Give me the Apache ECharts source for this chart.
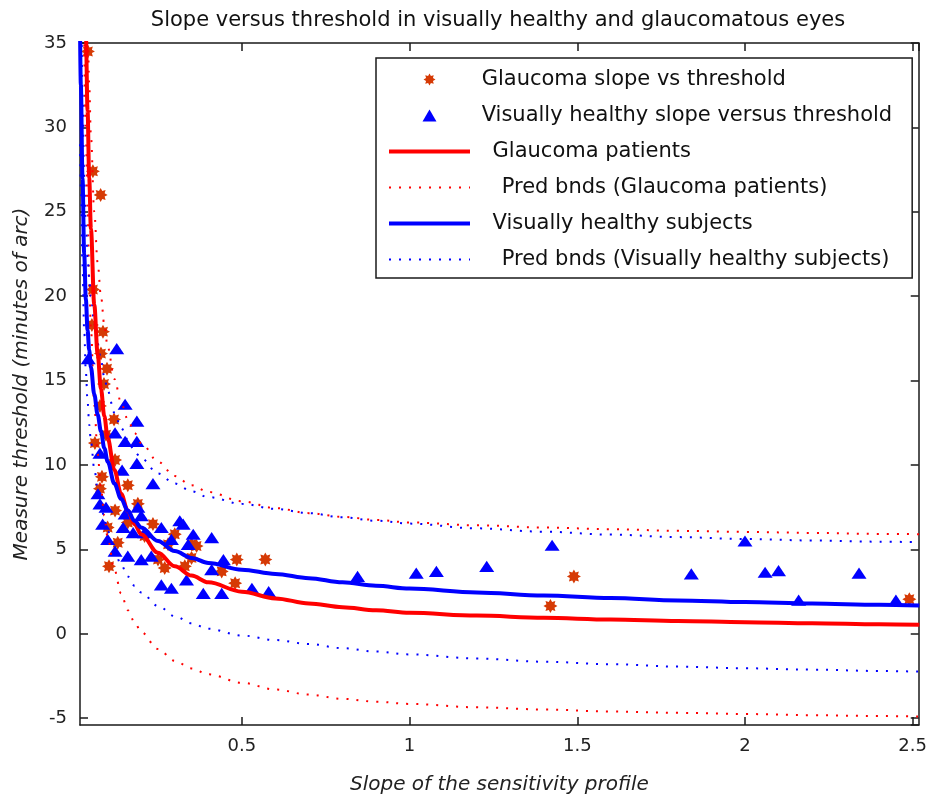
<!DOCTYPE html>
<html><head><meta charset="utf-8">
<script src="https://cdn.jsdelivr.net/npm/echarts@6/dist/echarts.min.js"></script>
<style>html,body{margin:0;padding:0;background:#fff}#c{width:930px;height:800px}</style>
</head><body><div id="c"></div>
<script>
const chartTitle = 'Slope versus threshold in visually healthy and glaucomatous eyes';
const xAxisTitle = 'Slope of the sensitivity profile';
const yAxisTitle = 'Measure threshold (minutes of arc)';
const seriesNames = ['Glaucoma slope vs threshold', 'Visually healthy slope versus threshold',
  'Glaucoma patients', 'Pred bnds (Glaucoma patients)', 'Visually healthy subjects', 'Pred bnds (Visually healthy subjects)'];
const legendLabels = [' Glaucoma slope vs threshold', ' Visually healthy slope versus threshold',
  '  \u2009Glaucoma patients', '    Pred bnds (Glaucoma patients)', '  \u2009Visually healthy subjects', '    Pred bnds (Visually healthy subjects)'];

const glaucomaPoints = [
  [0.041, 34.5], [0.056, 27.4], [0.079, 26.0], [0.056, 20.4], [0.053, 18.3], [0.086, 17.9], [0.08, 16.6],
  [0.098, 15.7], [0.089, 14.8], [0.077, 13.5], [0.119, 12.7], [0.095, 11.8], [0.062, 11.3], [0.122, 10.3],
  [0.083, 9.3], [0.077, 8.6], [0.16, 8.8], [0.122, 7.3], [0.19, 7.7], [0.1, 6.3], [0.13, 5.4], [0.104, 4.0],
  [0.16, 6.6], [0.21, 5.8], [0.235, 6.5], [0.30, 5.9], [0.28, 5.3], [0.25, 4.4], [0.27, 3.9], [0.33, 4.0],
  [0.35, 5.3], [0.365, 5.2], [0.35, 4.5], [0.485, 4.4], [0.57, 4.4], [0.44, 3.7], [0.48, 3.0],
  [1.42, 1.65], [1.49, 3.4], [2.49, 2.05]
];
const healthyPoints = [
  [0.042, 16.3], [0.127, 16.9], [0.152, 13.6], [0.187, 12.6], [0.122, 11.9], [0.152, 11.4], [0.187, 11.4],
  [0.077, 10.7], [0.187, 10.1], [0.143, 9.7], [0.235, 8.9], [0.071, 8.3], [0.077, 7.7], [0.095, 7.5],
  [0.152, 7.1], [0.19, 7.5], [0.2, 7.0], [0.085, 6.5], [0.146, 6.3], [0.176, 6.0], [0.21, 6.0], [0.1, 5.6],
  [0.26, 6.3], [0.315, 6.7], [0.29, 5.6], [0.34, 5.3], [0.122, 4.9], [0.16, 4.6], [0.2, 4.4], [0.23, 4.6],
  [0.26, 2.9], [0.29, 2.7], [0.41, 5.7], [0.355, 5.9], [0.325, 6.5], [0.445, 4.4], [0.41, 3.8],
  [0.385, 2.4], [0.44, 2.4], [0.53, 2.7], [0.58, 2.5], [0.335, 3.2],
  [0.845, 3.4], [1.02, 3.6], [1.08, 3.7], [1.23, 4.0], [1.425, 5.25], [1.84, 3.55], [2.0, 5.5],
  [2.06, 3.65], [2.1, 3.75], [2.16, 2.0], [2.34, 3.6], [2.45, 2.0]
];

const curveX = [0.0175, 0.02, 0.025, 0.03, 0.035, 0.04, 0.045, 0.05, 0.06, 0.07, 0.08, 0.09, 0.1, 0.12, 0.14, 0.16, 0.18, 0.2,
  0.25, 0.3, 0.35, 0.4, 0.5, 0.6, 0.7, 0.8, 0.9, 1.0, 1.2, 1.4, 1.6, 1.8, 2.0, 2.2, 2.4, 2.52];
const glaucomaFit = [null, null, null, 41.5, 35.5, 31, 27, 24, 19.5, 16.6, 14.5, 12.9, 11.6, 9.7, 8.3, 7.3, 6.5, 5.9,
  4.8, 4.0, 3.45, 3.05, 2.5, 2.1, 1.8, 1.58, 1.4, 1.25, 1.08, 0.95, 0.85, 0.76, 0.69, 0.63, 0.57, 0.54];
const glaucomaUpper = [null, null, null, 47, 41, 36.5, 32.5, 29.5, 25, 22, 20, 18.3, 17, 15.1, 13.7, 12.7, 11.9, 11.3,
  10.2, 9.35, 8.8, 8.4, 7.85, 7.45, 7.15, 6.93, 6.75, 6.6, 6.43, 6.3, 6.2, 6.1, 6.04, 5.98, 5.92, 5.9];
const glaucomaLower = [null, null, null, 35.5, 29.5, 25.1, 21.1, 18.1, 13.6, 10.7, 8.6, 7.0, 5.7, 3.8, 2.4, 1.4, 0.7, 0.1,
  -0.9, -1.6, -2.05, -2.4, -2.9, -3.3, -3.6, -3.85, -4.02, -4.15, -4.35, -4.48, -4.6, -4.68, -4.75, -4.82, -4.87, -4.9];
const healthyFit = [36, 32.5, 27, 22.5, 19.8, 18.0, 16.8, 15.8, 14.2, 13.0, 12.0, 11.0, 10.2, 8.9, 8.0, 7.3, 6.7, 6.3,
  5.5, 4.9, 4.5, 4.2, 3.8, 3.55, 3.3, 3.05, 2.85, 2.68, 2.45, 2.27, 2.12, 1.98, 1.88, 1.8, 1.72, 1.68];
const healthyUpper = [42, 38, 32, 27, 24.2, 22.3, 21.0, 20.0, 18.4, 17.2, 16.2, 15.2, 14.4, 13.1, 12.2, 11.5, 10.8, 10.4,
  9.5, 8.9, 8.45, 8.1, 7.7, 7.4, 7.15, 6.9, 6.7, 6.53, 6.25, 6.05, 5.88, 5.73, 5.62, 5.53, 5.46, 5.43];
const healthyLower = [29, 26.5, 21.8, 18, 15.5, 13.8, 12.4, 11.4, 9.8, 8.6, 7.7, 6.8, 6.1, 4.9, 4.1, 3.4, 2.85, 2.45,
  1.65, 1.05, 0.62, 0.3, -0.1, -0.37, -0.6, -0.85, -1.05, -1.22, -1.46, -1.65, -1.8, -1.94, -2.04, -2.12, -2.2, -2.24];

const xRange = [0.0175, 2.518];
const yRange = [-5.4, 35];

const RED = '#ff0000', BLUE = '#0000ff', STAR = '#d63a05';
const FONT = 'DejaVu Sans';
const TRIANGLE = 'path://M50 0L100 86L0 86Z';

function starSymbol(n, inner) {
  let d = '';
  for (let i = 0; i < 2 * n; i++) {
    const r = i % 2 ? inner : 1;
    const a = Math.PI * i / n - Math.PI / 2;
    d += (i ? 'L' : 'M') + (50 + 50 * r * Math.cos(a)).toFixed(2) + ' ' + (50 + 50 * r * Math.sin(a)).toFixed(2);
  }
  return 'path://' + d + 'Z';
}
function pairs(xs, ys) {
  const out = [];
  xs.forEach((x, i) => { if (ys[i] !== null) out.push([x, ys[i]]); });
  return out;
}
function lineSeries(name, ys, color, width, dotted) {
  return {
    type: 'line', name, data: pairs(curveX, ys), showSymbol: false, symbol: 'none',
    smooth: 0.35, smoothMonotone: 'x', clip: true, silent: true,
    lineStyle: { color, width, type: dotted ? [2, 8] : 'solid' },
    itemStyle: { color }, z: dotted ? 3 : 4
  };
}

const axisCommon = {
  type: 'value',
  axisLine: { show: true, onZero: false, lineStyle: { color: '#1a1a1a', width: 1.5 } },
  axisTick: { show: true, inside: true, length: 8, lineStyle: { color: '#1a1a1a', width: 1.5 } },
  splitLine: { show: false },
  axisLabel: { fontFamily: FONT, fontSize: 18, color: '#222' }
};

const legendData = seriesNames.map((name, i) => i < 2 ? { name } : { name, itemStyle: { opacity: 0 } });

const chart = echarts.init(document.getElementById('c'), null, { renderer: 'canvas' });
chart.setOption({
  backgroundColor: '#fff',
  animation: false,
  title: {
    text: chartTitle, left: 493, top: 5, textAlign: 'center',
    textStyle: { fontFamily: FONT, fontSize: 21, fontWeight: 'normal', color: '#111' }
  },
  grid: { left: 80, right: 8, top: 43, bottom: 72, containLabel: false },
  legend: {
    orient: 'vertical', left: 376, top: 58,
    data: legendData,
    formatter: name => legendLabels[seriesNames.indexOf(name)],
    backgroundColor: '#fff', borderColor: '#1a1a1a', borderWidth: 1.5,
    padding: [11, 20, 8, 11], itemWidth: 81, itemHeight: 12, itemGap: 15,
    symbolKeepAspect: true,
    textStyle: { fontFamily: FONT, fontSize: 21, color: '#111', lineHeight: 21 },
    lineStyle: { width: 'inherit' },
    selectedMode: false
  },
  xAxis: [
    Object.assign({}, axisCommon, {
      position: 'bottom', min: xRange[0], max: xRange[1], splitNumber: 5,
      axisLabel: Object.assign({}, axisCommon.axisLabel, { margin: 12, showMinLabel: false, showMaxLabel: false }),
      name: xAxisTitle, nameLocation: 'middle', nameGap: 50,
      nameTextStyle: { fontFamily: FONT, fontSize: 20, fontStyle: 'italic', color: '#222' }
    }),
    Object.assign({}, axisCommon, {
      position: 'top', min: xRange[0], max: xRange[1], splitNumber: 5, axisLabel: { show: false }
    })
  ],
  yAxis: [
    Object.assign({}, axisCommon, {
      position: 'left', min: yRange[0], max: yRange[1], splitNumber: 8,
      axisLabel: Object.assign({}, axisCommon.axisLabel, { margin: 13, showMinLabel: false }),
      name: yAxisTitle, nameLocation: 'middle', nameGap: 48, nameRotate: 90,
      nameTextStyle: { fontFamily: FONT, fontSize: 20, fontStyle: 'italic', color: '#222' }
    }),
    Object.assign({}, axisCommon, {
      position: 'right', min: yRange[0], max: yRange[1], splitNumber: 8, axisLabel: { show: false }
    })
  ],
  series: [
    { type: 'scatter', name: seriesNames[0], data: glaucomaPoints, symbol: starSymbol(8, 0.62), symbolSize: 14,
      symbolKeepAspect: true, itemStyle: { color: STAR, opacity: 1 }, z: 2, silent: true },
    { type: 'scatter', name: seriesNames[1], data: healthyPoints, symbol: TRIANGLE, symbolSize: [15, 13],
      symbolKeepAspect: true, itemStyle: { color: BLUE, opacity: 1 }, z: 2, silent: true },
    lineSeries(seriesNames[2], glaucomaFit, RED, 4, false),
    lineSeries(seriesNames[3], glaucomaUpper, RED, 2, true),
    lineSeries(seriesNames[3], glaucomaLower, RED, 2, true),
    lineSeries(seriesNames[4], healthyFit, BLUE, 4, false),
    lineSeries(seriesNames[5], healthyUpper, BLUE, 2, true),
    lineSeries(seriesNames[5], healthyLower, BLUE, 2, true)
  ]
});
</script></body></html>
